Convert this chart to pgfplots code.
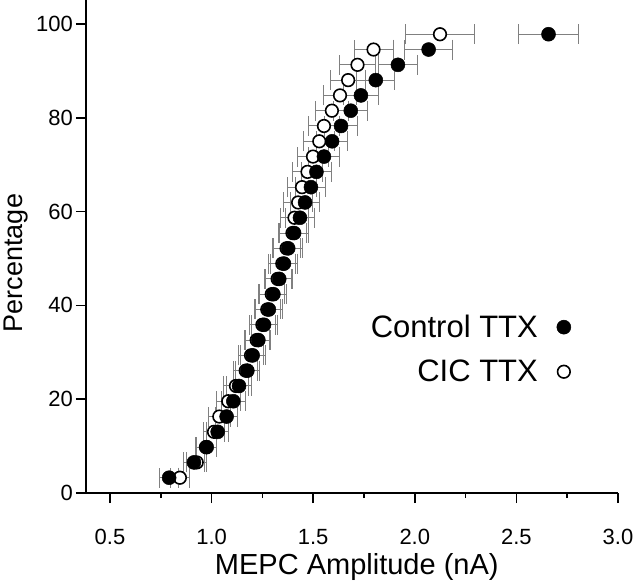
\documentclass[border=0pt]{standalone}
\usepackage{fontspec}
\setmainfont{Liberation Sans}
\usepackage{pgfplots}
\pgfplotsset{compat=1.18}
\usepackage{pgfplotstable}

\pgfplotstableread{
x y ex
0.791 3.26 0.045
0.913 6.52 0.05
0.976 9.78 0.05
1.030 13.04 0.055
1.074 16.30 0.055
1.107 19.56 0.06
1.135 22.82 0.06
1.176 26.08 0.06
1.202 29.34 0.062
1.230 32.60 0.062
1.258 35.86 0.064
1.282 39.12 0.065
1.304 42.38 0.066
1.333 45.64 0.067
1.356 48.90 0.068
1.377 52.16 0.07
1.406 55.42 0.07
1.435 58.68 0.072
1.460 61.94 0.073
1.489 65.20 0.074
1.516 68.46 0.075
1.553 71.72 0.077
1.593 74.98 0.078
1.637 78.24 0.08
1.685 81.50 0.084
1.735 84.76 0.088
1.808 88.02 0.093
1.917 91.28 0.098
2.068 94.54 0.118
2.658 97.80 0.15
}\ctrl

\pgfplotstableread{
x y ex
0.844 3.26 0.045
0.927 6.52 0.05
0.972 9.78 0.05
1.012 13.04 0.052
1.038 16.30 0.055
1.082 19.56 0.058
1.120 22.82 0.06
1.168 26.08 0.06
1.194 29.34 0.062
1.222 32.60 0.062
1.250 35.86 0.063
1.274 39.12 0.064
1.296 42.38 0.065
1.325 45.64 0.066
1.348 48.90 0.067
1.369 52.16 0.068
1.398 55.42 0.069
1.408 58.68 0.07
1.426 61.94 0.071
1.445 65.20 0.072
1.472 68.46 0.073
1.499 71.72 0.075
1.530 74.98 0.076
1.553 78.24 0.078
1.592 81.50 0.08
1.632 84.76 0.083
1.672 88.02 0.085
1.718 91.28 0.09
1.797 94.54 0.096
2.124 97.80 0.17
}\cic

\begin{document}
\begin{tikzpicture}
\begin{axis}[
  scale only axis, width=532pt, height=493pt,
  xmin=0.382, xmax=3.0, ymin=0, ymax=105.1,
  axis lines=left,
  axis line style={-, line width=1.8pt},
  xtick={0.5,1.0,1.5,2.0,2.5,3.0}, minor x tick num=1,
  ytick={0,20,40,60,80,100},
  tick align=outside,
  major tick length=10pt, minor tick length=5pt,
  tick style={black, line width=1.6pt},
  /pgf/number format/assume math mode=true,
  tick label style={font=\fontsize{22}{26}\selectfont},
  xticklabel style={/pgf/number format/fixed, /pgf/number format/fixed zerofill, /pgf/number format/precision=1, anchor=north, inner sep=0pt, yshift=-26pt},
  yticklabel style={anchor=east, inner sep=0pt, xshift=-3pt},
  xlabel={MEPC Amplitude (nA)},
  xlabel style={at={(axis description cs:0.509,-0.166)}, anchor=base, font=\fontsize{29}{34}\selectfont},
  ylabel={Percentage},
  ylabel style={at={(axis description cs:-0.1316,0.4665)}, anchor=center, font=\fontsize{27}{32}\selectfont},
  legend style={at={(axis cs:2.769,37.95)}, anchor=north east, draw=none, fill=none, inner sep=0pt, row sep=21pt, column sep=19pt, font=\fontsize{31}{36}\selectfont, nodes={inner sep=0pt}},
  legend cell align=right,
  legend plot pos=right,
  reverse legend,
  legend image code/.code={\draw[#1] plot coordinates {(0pt,0pt)};},
]
\coordinate (O) at (rel axis cs:0,0);
\addplot[only marks, mark=*, mark size=6.3pt, mark options={draw=black, fill=white, line width=1.6pt},
  error bars/.cd, x dir=both, x explicit,
  error bar style={gray, line width=1pt},
  error mark options={gray, line width=1pt, mark size=10pt, rotate=90}]
  table[x=x, y=y, x error=ex] {\cic};
\addlegendentry{CIC TTX}
\addplot[only marks, mark=*, mark size=7pt, mark options={draw=black, fill=black, line width=0.5pt},
  error bars/.cd, x dir=both, x explicit,
  error bar style={gray, line width=1pt},
  error mark options={gray, line width=1pt, mark size=10pt, rotate=90}]
  table[x=x, y=y, x error=ex] {\ctrl};
\addlegendentry{Control TTX}
\end{axis}
\pgfresetboundingbox
\path (O) ++(-86pt,-94pt) rectangle ++(640pt,587pt);
\end{tikzpicture}
\end{document}
